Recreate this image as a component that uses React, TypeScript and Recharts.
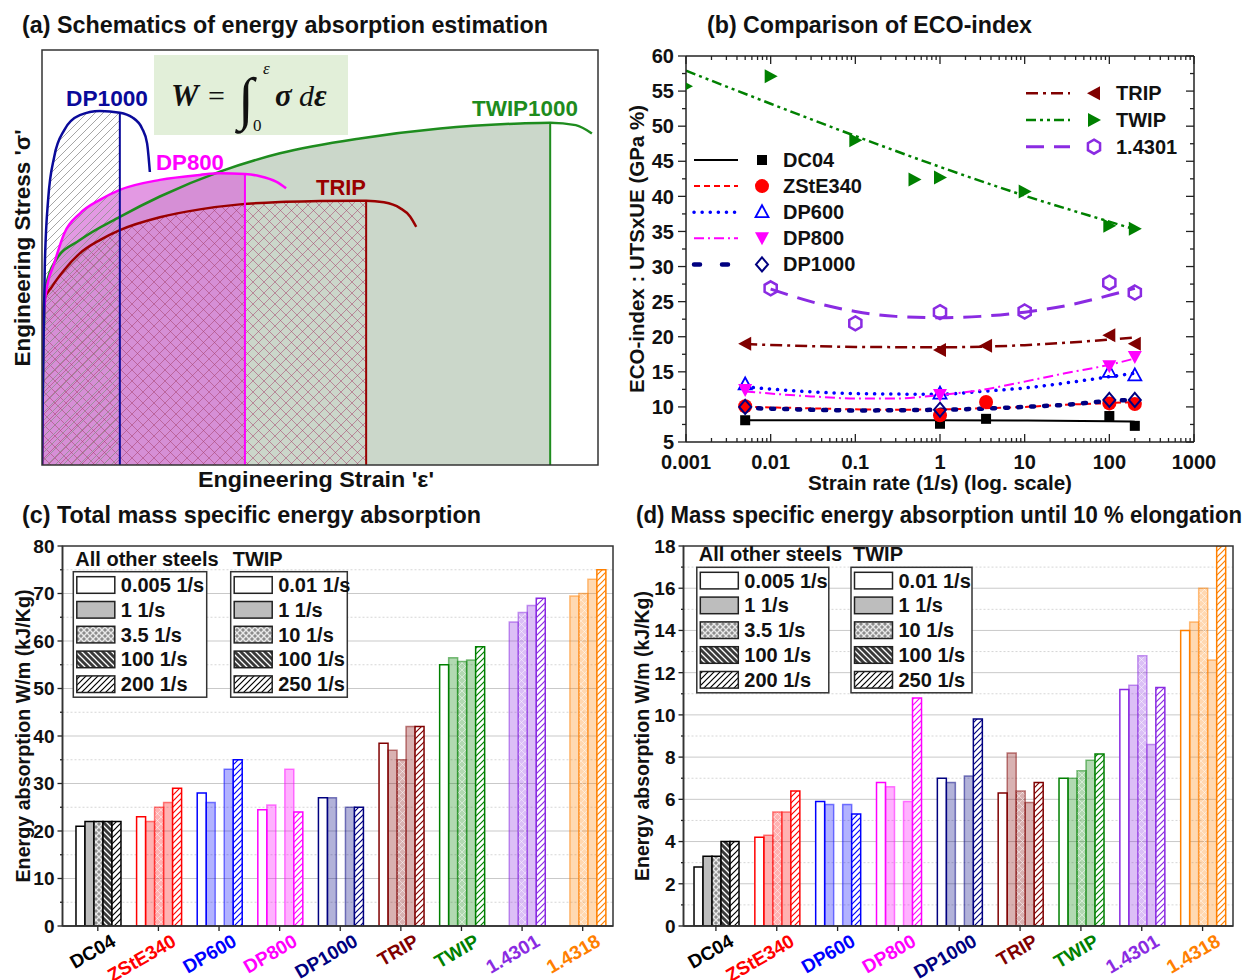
import React from 'react'
import { ComposedChart, Area, Line, Scatter, Bar, Cell, XAxis, YAxis, CartesianGrid, ReferenceLine } from 'recharts'

const FONT = "'Liberation Sans', Arial, sans-serif"
const SERIF = "'Liberation Serif', 'DejaVu Serif', serif"
const INK = '#111111'
const AXIS = '#222222'

// ---------- (a) schematic stress-strain curves (both axes in % of the drawing box)
const curveNames = ['DP1000', 'DP800', 'TRIP', 'TWIP1000']
const curveColors = ['#0a0a9a', '#ff00ff', '#990000', '#1e8c1e']
const dp1000Strain = [0, 0.2, 0.5, 1.1, 2.2, 4.0, 6.8, 10.4, 14.0, 16.2, 18.0, 18.9, 19.4]
const dp1000Stress = [0, 23.7, 47.8, 63.9, 74.3, 80.7, 84.3, 85.3, 84.9, 83.8, 81.1, 77.5, 70.6]
const dp800Strain = [0, 0.2, 0.7, 2.2, 4.0, 6.8, 10.4, 14.0, 21.2, 28.4, 32.0, 36.5, 39.2, 42.1, 43.9]
const dp800Stress = [0, 31.7, 41.4, 48.6, 55.8, 60.6, 63.9, 66.3, 68.7, 69.9, 70.3, 70.1, 69.6, 68.3, 66.7]
const tripStrain = [0, 0.07, 0.4, 1.8, 4.0, 6.8, 10.4, 14.0, 21.2, 28.4, 35.6, 42.8, 50.0, 58.3, 61.5, 64.4, 66.2, 67.3]
const tripStress = [0, 23.7, 39.8, 43.0, 47.0, 51.0, 54.2, 56.6, 59.7, 61.6, 62.8, 63.4, 63.6, 63.7, 63.3, 61.9, 59.9, 57.4]
const twipStrain = [0, 0.2, 0.7, 2.5, 6.8, 14.0, 21.2, 32.0, 42.8, 57.2, 71.6, 86.0, 91.4, 96.0, 98.9]
const twipStress = [0, 23.7, 43.0, 49.4, 54.2, 59.8, 64.7, 70.7, 75.1, 78.7, 81.1, 82.3, 82.5, 81.9, 79.9]
// uniform elongation (end of each shaded area), same order as curveNames
const curveUe = [14.0, 36.5, 58.3, 91.4]

// ---------- (b) ECO-index vs strain rate
const ecoNames = ['DC04', 'ZStE340', 'DP600', 'DP800', 'DP1000', 'TRIP', 'TWIP', '1.4301']
const ecoColors = ['#000000', '#ff0000', '#0000ff', '#ff00ff', '#000080', '#800000', '#008000', '#8a2be2']
const ecoMarkers = ['square', 'circle', 'triUp', 'triDown', 'diamond', 'triLeft', 'triRight', 'hex']
const ecoDash = ['', '6 4', '0.1 8', '10 4 2 4', '3 10', '12 5 3 5', '10 4 3 4 3 4', '18 10']
const ecoWidth = [2, 2, 3.5, 2, 4.5, 2.5, 2.5, 3]
const ecoRates = [
  [0.005, 1, 3.5, 100, 200],
  [0.005, 1, 3.5, 100, 200],
  [0.005, 1, 100, 200],
  [0.005, 1, 100, 200],
  [0.005, 1, 100, 200],
  [0.005, 1, 3.5, 100, 200],
  [0.001, 0.01, 0.1, 0.5, 1, 10, 100, 200],
  [0.01, 0.1, 1, 10, 100, 200],
]
const ecoValues = [
  [8.1, 7.6, 8.3, 8.7, 7.3],
  [10.1, 8.8, 10.7, 10.5, 10.4],
  [13.2, 11.9, 15.0, 14.5],
  [12.4, 11.7, 15.8, 17.1],
  [10.0, 9.6, 11.0, 11.0],
  [19.0, 18.1, 18.7, 20.2, 19.0],
  [55.7, 57.1, 48.0, 42.4, 42.7, 40.7, 35.8, 35.4],
  [26.9, 21.9, 23.5, 23.6, 27.7, 26.3],
]
// fitted trend lines
const fitRates = [
  [0.005, 0.1, 1, 10, 100, 200],
  [0.005, 0.03, 0.1, 0.3, 1, 3, 10, 30, 100, 200],
  [0.005, 0.03, 0.1, 1, 3, 10, 30, 100, 200],
  [0.005, 0.03, 0.1, 0.3, 1, 3, 10, 30, 100, 200],
  [0.005, 0.01, 0.1, 1, 10, 30, 100, 200],
  [0.005, 0.1, 1, 10, 100, 200],
  [0.001, 0.01, 0.1, 1, 10, 100, 200],
  [0.01, 0.03, 0.1, 0.3, 1, 3, 10, 30, 100, 200],
]
const fitValues = [
  [8.1, 8.1, 8.1, 8.05, 7.95, 7.9],
  [10.0, 9.8, 9.65, 9.6, 9.65, 9.8, 10.0, 10.3, 10.55, 10.7],
  [12.85, 12.15, 11.9, 11.8, 12.2, 12.7, 13.4, 14.3, 14.8],
  [12.2, 11.5, 11.2, 11.2, 11.7, 12.4, 13.6, 14.8, 16.0, 16.9],
  [9.85, 9.75, 9.5, 9.6, 10.0, 10.3, 10.85, 11.0],
  [18.95, 18.55, 18.5, 18.8, 19.6, 19.9],
  [57.9, 53.2, 48.6, 44.2, 40.1, 36.4, 35.3],
  [26.8, 25.0, 23.6, 22.9, 22.7, 22.9, 23.5, 24.4, 25.9, 26.9],
]
const decades = [0.001, 0.01, 0.1, 1, 10, 100, 1000]
const ecoMajor = [5, 10, 15, 20, 25, 30, 35, 40, 45, 50, 55, 60]
const ecoMinor = [7.5, 12.5, 17.5, 22.5, 27.5, 32.5, 37.5, 42.5, 47.5, 52.5, 57.5]

// ---------- (c), (d) bars
const steels = ['DC04', 'ZStE340', 'DP600', 'DP800', 'DP1000', 'TRIP', 'TWIP', '1.4301', '1.4318']
const steelColors = ['#000000', '#ff0000', '#0000ff', '#ff00ff', '#000080', '#800000', '#008000', '#8a2be2', '#ff8000']
const otherRates = ['0.005 1/s', '1 1/s', '3.5 1/s', '100 1/s', '200 1/s']
const twipRates = ['0.01 1/s', '1 1/s', '10 1/s', '100 1/s', '250 1/s']
// total energy absorption, one list per strain-rate slot
const totalAt0 = [21, 23, 28, 24.5, 27, 38.5, 55, null, null]
const totalAt1 = [22, 22, 26, 25.5, 27, 37, 56.5, 64, 69.5]
const totalAt2 = [22, 25, null, null, null, 35, 55.7, 66, 70]
const totalAt3 = [22, 26, 33, 33, 25, 42, 56, 67.5, 73]
const totalAt4 = [22, 29, 35, 24, 25, 42, 58.8, 69, 75]
// energy absorption until 10 % elongation
const tenAt0 = [2.8, 4.2, 5.9, 6.8, 7.0, 6.3, 7.0, 11.2, 14.0]
const tenAt1 = [3.3, 4.3, 5.75, 6.6, 6.8, 8.2, 7.0, 11.4, 14.4]
const tenAt2 = [3.3, 5.4, null, null, null, 6.4, 7.35, 12.8, 16.0]
const tenAt3 = [4.0, 5.4, 5.75, 5.9, 7.1, 5.85, 7.85, 8.6, 12.6]
const tenAt4 = [4.0, 6.4, 5.3, 10.8, 9.8, 6.8, 8.15, 11.3, 18.0]
const totalMajor = [0, 10, 20, 30, 40, 50, 60, 70, 80]
const totalMinor = [5, 15, 25, 35, 45, 55, 65, 75]
const tenMajor = [0, 2, 4, 6, 8, 10, 12, 14, 16, 18]
const tenMinor = [1, 3, 5, 7, 9, 11, 13, 15, 17]

const zip = (xs: number[], ys: number[]) => xs.map((x, i) => ({ x, y: ys[i] }))
const upTo = (pts: { x: number; y: number }[], ue: number) => pts.filter(p => p.x <= ue)
const toRows = (slots: (number | null)[][]) =>
  steels.map((steel, i) => ({ steel, s0: slots[0][i], s1: slots[1][i], s2: slots[2][i], s3: slots[3][i], s4: slots[4][i] }))

const curves = [zip(dp1000Strain, dp1000Stress), zip(dp800Strain, dp800Stress), zip(tripStrain, tripStress), zip(twipStrain, twipStress)]
const totalRows = toRows([totalAt0, totalAt1, totalAt2, totalAt3, totalAt4])
const tenRows = toRows([tenAt0, tenAt1, tenAt2, tenAt3, tenAt4])
const logTicks = [...decades, ...decades.slice(0, -1).flatMap(d => [2, 3, 4, 5, 6, 7, 8, 9].map(k => d * k))].sort((a, b) => a - b)

// ---------- shared bits
function Marker({ kind, cx, cy, color }: any) {
  switch (kind) {
    case 'square': return <rect x={cx - 5} y={cy - 5} width={10} height={10} fill={color} />
    case 'circle': return <circle cx={cx} cy={cy} r={7} fill={color} />
    case 'triUp': return <polygon points={`${cx},${cy - 7} ${cx + 6.5},${cy + 5} ${cx - 6.5},${cy + 5}`} fill="none" stroke={color} strokeWidth={1.8} />
    case 'triDown': return <polygon points={`${cx - 7},${cy - 6} ${cx + 7},${cy - 6} ${cx},${cy + 7}`} fill={color} />
    case 'diamond': return <polygon points={`${cx},${cy - 7} ${cx + 6},${cy} ${cx},${cy + 7} ${cx - 6},${cy}`} fill="none" stroke={color} strokeWidth={2} />
    case 'triLeft': return <polygon points={`${cx - 7},${cy} ${cx + 6},${cy - 7} ${cx + 6},${cy + 7}`} fill={color} />
    case 'triRight': return <polygon points={`${cx + 7},${cy} ${cx - 6},${cy - 7} ${cx - 6},${cy + 7}`} fill={color} />
    default: {
      const r = 7
      const pts = [0, 1, 2, 3, 4, 5].map(k => {
        const a = (Math.PI / 3) * k - Math.PI / 2
        return `${cx + r * Math.cos(a)},${cy + r * Math.sin(a)}`
      }).join(' ')
      return <polygon points={pts} fill="none" stroke={color} strokeWidth={2.5} />
    }
  }
}

function LogTick(props: any) {
  const { x, y, payload, side } = props
  const major = decades.includes(payload.value)
  const len = major ? 8 : 4
  if (side === 'top') return <line x1={x} x2={x} y1={y} y2={y + len} stroke={AXIS} strokeWidth={1.3} />
  return (
    <g>
      <line x1={x} x2={x} y1={y} y2={y - len} stroke={AXIS} strokeWidth={1.3} />
      {major && <text x={x} y={y + 27} textAnchor="middle" fontSize={20} fontWeight="bold" fontFamily={FONT} fill={INK}>{String(payload.value)}</text>}
    </g>
  )
}

// left axis: ticks point outward, labels only on majors; right axis: ticks point inward
function ValueTick(props: any) {
  const { x, y, payload, majors, side, gap = 7, fs = 19, outLen = 6 } = props
  const major = majors.includes(payload.value)
  const len = major ? outLen : outLen / 2
  if (side === 'right') return <line x1={x - len} x2={x} y1={y} y2={y} stroke={AXIS} strokeWidth={1.3} />
  return (
    <g>
      <line x1={x - len} x2={x} y1={y} y2={y} stroke={AXIS} strokeWidth={1.3} />
      {major && <text x={x - gap} y={y} dy="0.36em" textAnchor="end" fontSize={fs} fontWeight="bold" fontFamily={FONT} fill={INK}>{payload.value}</text>}
    </g>
  )
}

function SteelTick(props: any) {
  const { x, y, payload } = props
  const i = steels.indexOf(payload.value)
  const tx = x + 19
  const ty = y + 19
  return (
    <g>
      <line x1={x} x2={x} y1={y} y2={y + 5} stroke={AXIS} strokeWidth={1.3} />
      <text x={tx} y={ty} transform={`rotate(-30 ${tx} ${ty})`} textAnchor="end" fontSize={19} fontWeight="bold" fontFamily={FONT} fill={steelColors[i]}>{payload.value}</text>
    </g>
  )
}

// how each strain-rate slot is filled; DC04 gets the grey/black key styles
const dcFills = ['#ffffff', '#bdbdbd', 'url(#dc-dots)', 'url(#dc-dark)', 'url(#hatch-0)']
function barStyle(i: number, s: number) {
  if (i === 0) return { fill: dcFills[s], stroke: '#000', strokeWidth: 1.5 }
  const c = steelColors[i]
  if (s === 0) return { fill: '#fff', stroke: c, strokeWidth: 1.5 }
  if (s === 4) return { fill: `url(#hatch-${i})`, stroke: c, strokeWidth: 1.5 }
  if (s === 2) return { fill: `url(#xh-${i})`, stroke: c, strokeOpacity: 0.5, strokeWidth: 1.5 }
  return { fill: c, fillOpacity: 0.3, stroke: c, strokeOpacity: 0.5, strokeWidth: 1.5 }
}

function BarPanel({ rows, max, majors, minors, padLeft, marginLeft }: any) {
  return (
    <ComposedChart width={625} height={450} data={rows} margin={{ top: 16, right: 12, bottom: 0, left: marginLeft }} barGap={0} barCategoryGap="14%">
      <CartesianGrid vertical={false} horizontalValues={minors} stroke="#d6d6d6" strokeDasharray="2 2" />
      <CartesianGrid vertical={false} horizontalValues={majors.filter((v: number) => v > 0 && v < max)} stroke="#c9c9c9" />
      <XAxis dataKey="steel" type="category" interval={0} padding={{ left: padLeft, right: 0 }} height={54}
        tickLine={false} tickSize={0} tickMargin={0} axisLine={{ stroke: AXIS, strokeWidth: 1.5 }}
        tick={(p: any) => <SteelTick {...p} />} />
      <YAxis type="number" domain={[0, max]} allowDataOverflow ticks={[...majors, ...minors].sort((a, b) => a - b)} interval={0} width={50}
        tickLine={false} tickSize={0} tickMargin={0} axisLine={{ stroke: AXIS, strokeWidth: 1.5 }}
        tick={(p: any) => <ValueTick {...p} majors={majors} gap={8} outLen={5} />} />
      {[0, 1, 2, 3, 4].map(s => (
        <Bar key={s} dataKey={`s${s}`} isAnimationActive={false}>
          {steels.map((st, i) => <Cell key={st} {...barStyle(i, s)} />)}
        </Bar>
      ))}
    </ComposedChart>
  )
}

function RateLegend({ bx1, bw1, bx2, bw2, by }: any) {
  const bh = 125.5
  const rows = [0, 1, 2, 3, 4].map(k => by + 13.3 + k * 24.8)
  const block = (bx: number, bw: number, labels: string[]) => (
    <g>
      <rect x={bx} y={by} width={bw} height={bh} fill="#fff" stroke="#333" strokeWidth={1.5} />
      {labels.map((lab, k) => (
        <g key={lab + k}>
          <rect x={bx + 3.5} y={rows[k] - 8.3} width={38} height={16.6} fill={dcFills[k]} stroke="#222" strokeWidth={1.5} />
          <text x={bx + 47.5} y={rows[k] + 7} fontSize={20} fontWeight="bold" fontFamily={FONT} fill={INK}>{lab}</text>
        </g>
      ))}
    </g>
  )
  return (
    <g>
      <text x={bx1 + 2} y={by - 6} fontSize={20} fontWeight="bold" fontFamily={FONT} fill={INK}>All other steels</text>
      <text x={bx2 + 2} y={by - 6} fontSize={20} fontWeight="bold" fontFamily={FONT} fill={INK}>TWIP</text>
      {block(bx1, bw1, otherRates)}
      {block(bx2, bw2, twipRates)}
    </g>
  )
}

function Txt({ x, y, len, size = 20, color = INK, anchor = 'start', rotate = false, children }: any) {
  return (
    <text x={x} y={y} textLength={len} lengthAdjust="spacingAndGlyphs" textAnchor={anchor}
      transform={rotate ? `rotate(-90 ${x} ${y})` : undefined}
      fontSize={size} fontWeight="bold" fontFamily={FONT} fill={color}>{children}</text>
  )
}

export default function App() {
  const legendLeft = [0, 1, 2, 3, 4]
  const legendRight = [5, 6, 7]
  return (
    <div style={{ position: 'absolute', left: 0, top: 0, width: 1245, height: 980, background: '#fff', overflow: 'hidden' }}>
      <svg width={0} height={0} style={{ position: 'absolute' }}>
        <defs>
          {steelColors.map((c, i) => (
            <pattern key={`h${i}`} id={`hatch-${i}`} patternUnits="userSpaceOnUse" width={6} height={6}>
              <rect width={6} height={6} fill="#fff" />
              <path d="M-1,1 L1,-1 M0,6 L6,0 M5,7 L7,5" stroke={c} strokeWidth={1.2} />
            </pattern>
          ))}
          {steelColors.map((c, i) => (
            <pattern key={`x${i}`} id={`xh-${i}`} patternUnits="userSpaceOnUse" width={7} height={7}>
              <rect width={7} height={7} fill={c} fillOpacity={0.3} />
              <path d="M0,0 L7,7 M7,0 L0,7" stroke="#fff" strokeOpacity={0.45} strokeWidth={1} />
            </pattern>
          ))}
          <pattern id="dc-dots" patternUnits="userSpaceOnUse" width={6} height={6}>
            <rect width={6} height={6} fill="#8c8c8c" />
            <path d="M0,0 L6,6 M6,0 L0,6" stroke="#e8e8e8" strokeWidth={1.4} />
          </pattern>
          <pattern id="dc-dark" patternUnits="userSpaceOnUse" width={6} height={6}>
            <rect width={6} height={6} fill="#3a3a3a" />
            <path d="M0,0 L6,6 M-1,5 L1,7 M5,-1 L7,1" stroke="#fff" strokeWidth={1.3} />
          </pattern>
          <pattern id="a-hatch" patternUnits="userSpaceOnUse" width={8} height={8}>
            <path d="M0,8 L8,0 M-1,1 L1,-1 M7,9 L9,7" stroke="#8f8f8f" strokeWidth={0.8} />
          </pattern>
          <pattern id="a-cross" patternUnits="userSpaceOnUse" width={11} height={11}>
            <path d="M0,0 L11,11 M11,0 L0,11" stroke="#a4406a" strokeOpacity={0.75} strokeWidth={0.7} />
          </pattern>
        </defs>
      </svg>

      {/* (a) schematic */}
      <div style={{ position: 'absolute', left: 0, top: 40 }}>
        <ComposedChart width={610} height={440} margin={{ top: 10, right: 12, bottom: 15, left: 42 }}>
          <XAxis type="number" dataKey="x" domain={[0, 100]} allowDataOverflow hide />
          <YAxis type="number" dataKey="y" domain={[0, 100]} allowDataOverflow hide />
          <Area data={upTo(curves[3], curveUe[3])} dataKey="y" type="monotone" fill="#cbd7ca" fillOpacity={1} stroke="none" isAnimationActive={false} />
          <Line data={curves[3]} dataKey="y" type="monotone" stroke={curveColors[3]} strokeWidth={2.5} dot={false} activeDot={false} isAnimationActive={false} />
          <Area data={upTo(curves[1], curveUe[1])} dataKey="y" type="monotone" fill="#d977d9" fillOpacity={0.75} stroke="none" isAnimationActive={false} />
          <Area data={upTo(curves[2], curveUe[2])} dataKey="y" type="monotone" fill="url(#a-cross)" fillOpacity={1} stroke="none" isAnimationActive={false} />
          <Area data={upTo(curves[0], curveUe[0])} dataKey="y" type="monotone" fill="url(#a-hatch)" fillOpacity={1} stroke="none" isAnimationActive={false} />
          <Line data={curves[2]} dataKey="y" type="monotone" stroke={curveColors[2]} strokeWidth={2.5} dot={false} activeDot={false} isAnimationActive={false} />
          <Line data={curves[1]} dataKey="y" type="monotone" stroke={curveColors[1]} strokeWidth={2.5} dot={false} activeDot={false} isAnimationActive={false} />
          <Line data={curves[0]} dataKey="y" type="monotone" stroke={curveColors[0]} strokeWidth={2.5} dot={false} activeDot={false} isAnimationActive={false} />
          {curves.map((pts, i) => {
            const top = pts.find(p => p.x === curveUe[i])
            return <ReferenceLine key={i} segment={[{ x: curveUe[i], y: 0 }, { x: curveUe[i], y: top ? top.y : 0 }]} stroke={curveColors[i]} strokeWidth={2} />
          })}
        </ComposedChart>
      </div>

      {/* (b) ECO-index */}
      <div style={{ position: 'absolute', left: 620, top: 40 }}>
        <ComposedChart width={600} height={450} margin={{ top: 10, right: 16, bottom: 8, left: 16 }}>
          <XAxis dataKey="rate" type="number" scale="log" domain={[0.001, 1000]} allowDataOverflow ticks={logTicks} interval={0} height={40}
            tickLine={false} tickSize={0} tickMargin={0} axisLine={{ stroke: AXIS, strokeWidth: 1.5 }} tick={(p: any) => <LogTick {...p} />} />
          <XAxis xAxisId="top" orientation="top" dataKey="rate" type="number" scale="log" domain={[0.001, 1000]} allowDataOverflow ticks={logTicks} interval={0} height={6}
            tickLine={false} tickSize={0} tickMargin={0} axisLine={{ stroke: AXIS, strokeWidth: 1.5 }} tick={(p: any) => <LogTick {...p} side="top" />} />
          <YAxis dataKey="value" type="number" domain={[5, 60]} allowDataOverflow ticks={[...ecoMajor, ...ecoMinor].sort((a, b) => a - b)} interval={0} width={50}
            tickLine={false} tickSize={0} tickMargin={0} axisLine={{ stroke: AXIS, strokeWidth: 1.5 }} tick={(p: any) => <ValueTick {...p} majors={ecoMajor} gap={12} fs={20} outLen={8} />} />
          <YAxis yAxisId="right" orientation="right" dataKey="value" type="number" domain={[5, 60]} allowDataOverflow ticks={[...ecoMajor, ...ecoMinor].sort((a, b) => a - b)} interval={0} width={10}
            tickLine={false} tickSize={0} tickMargin={0} axisLine={{ stroke: AXIS, strokeWidth: 1.5 }} tick={(p: any) => <ValueTick {...p} majors={ecoMajor} side="right" outLen={8} />} />
          <Line xAxisId="top" yAxisId="right" data={ecoRates[6].map((rate, k) => ({ rate, value: ecoValues[6][k] }))} dataKey="value" stroke="none" dot={false} activeDot={false} isAnimationActive={false} />
          {ecoNames.map((n, i) => (
            <Line key={`fit-${n}`} data={fitRates[i].map((rate, k) => ({ rate, value: fitValues[i][k] }))} dataKey="value" type="monotone"
              stroke={ecoColors[i]} strokeWidth={ecoWidth[i]} strokeDasharray={ecoDash[i] || undefined} strokeLinecap={i === 2 || i === 4 ? 'round' : 'butt'}
              dot={false} activeDot={false} isAnimationActive={false} />
          ))}
          {ecoNames.map((n, i) => (
            <Scatter key={`pt-${n}`} data={ecoRates[i].map((rate, k) => ({ rate, value: ecoValues[i][k] }))} dataKey="value" isAnimationActive={false}
              shape={(p: any) => <Marker kind={ecoMarkers[i]} cx={p.cx} cy={p.cy} color={ecoColors[i]} />} />
          ))}
        </ComposedChart>
      </div>

      {/* (c) total */}
      <div style={{ position: 'absolute', left: 0, top: 530 }}>
        <BarPanel rows={totalRows} max={80} majors={totalMajor} minors={totalMinor} padLeft={5} marginLeft={12.5} />
      </div>

      {/* (d) until 10 % */}
      <div style={{ position: 'absolute', left: 620, top: 530 }}>
        <BarPanel rows={tenRows} max={18} majors={tenMajor} minors={tenMinor} padLeft={2} marginLeft={13.5} />
      </div>

      {/* titles, axis names, legends, frames */}
      <svg width={1245} height={980} style={{ position: 'absolute', left: 0, top: 0, pointerEvents: 'none' }}>
        <Txt x={22} y={33} len={526} size={23}>(a) Schematics of energy absorption estimation</Txt>
        <Txt x={707} y={33} len={325} size={23}>(b) Comparison of ECO-index</Txt>
        <Txt x={22} y={523} len={459} size={23}>(c) Total mass specific energy absorption</Txt>
        <Txt x={636} y={523} len={606} size={23}>(d) Mass specific energy absorption until 10 % elongation</Txt>

        <rect x={42} y={50} width={556} height={415} fill="none" stroke="#333" strokeWidth={1.5} />
        <Txt x={316} y={487} len={236} size={22} anchor="middle">Engineering Strain 'ε'</Txt>
        <Txt x={30} y={248} len={237} size={22} anchor="middle" rotate>Engineering Stress 'σ'</Txt>
        <Txt x={66} y={106} len={82} size={22} color={curveColors[0]}>{curveNames[0]}</Txt>
        <Txt x={156} y={170} len={68} size={22} color={curveColors[1]}>{curveNames[1]}</Txt>
        <Txt x={316} y={195} len={50} size={22} color={curveColors[2]}>{curveNames[2]}</Txt>
        <Txt x={472} y={116} len={106} size={22} color={curveColors[3]}>{curveNames[3]}</Txt>

        <rect x={154} y={55} width={194} height={80} fill="#e2efd9" />
        <g fontFamily={SERIF} fill="#111">
          <text x={171} y={106} fontSize={31} fontWeight="bold" fontStyle="italic">W</text>
          <text x={208} y={106} fontSize={30}>=</text>
          <text x={238} y={118} fontSize={58}>∫</text>
          <text x={263} y={74} fontSize={17} fontStyle="italic">ε</text>
          <text x={253} y={131} fontSize={17}>0</text>
          <text x={275} y={106} fontSize={31} fontWeight="bold" fontStyle="italic">σ</text>
          <text x={299} y={106} fontSize={30} fontStyle="italic">d</text>
          <text x={314} y={106} fontSize={31} fontWeight="bold" fontStyle="italic">ε</text>
        </g>

        <Txt x={644} y={249} len={288} size={20} anchor="middle" rotate>ECO-index : UTSxUE (GPa %)</Txt>
        <Txt x={940} y={490} len={264} size={21} anchor="middle">Strain rate (1/s) (log. scale)</Txt>
        {legendLeft.map((i, k) => {
          const y = 160 + k * 26.1
          return (
            <g key={ecoNames[i]}>
              <line x1={694} x2={738} y1={y} y2={y} stroke={ecoColors[i]} strokeWidth={ecoWidth[i]} strokeDasharray={i === 4 ? '6 22' : ecoDash[i] || undefined} strokeLinecap={i === 2 || i === 4 ? 'round' : 'butt'} />
              <Marker kind={ecoMarkers[i]} cx={762} cy={y} color={ecoColors[i]} />
              <text x={783} y={y + 7} fontSize={20} fontWeight="bold" fontFamily={FONT} fill={INK}>{ecoNames[i]}</text>
            </g>
          )
        })}
        {legendRight.map((i, k) => {
          const y = 93.3 + k * 26.7
          return (
            <g key={ecoNames[i]}>
              <line x1={1026} x2={1070} y1={y} y2={y} stroke={ecoColors[i]} strokeWidth={ecoWidth[i]} strokeDasharray={ecoDash[i] || undefined} />
              <Marker kind={ecoMarkers[i]} cx={1094} cy={y} color={ecoColors[i]} />
              <text x={1116} y={y + 7} fontSize={20} fontWeight="bold" fontFamily={FONT} fill={INK}>{ecoNames[i]}</text>
            </g>
          )
        })}

        <rect x={62.5} y={546} width={550.5} height={380} fill="none" stroke="#333" strokeWidth={1.5} />
        <rect x={683.5} y={546} width={549.5} height={380} fill="none" stroke="#333" strokeWidth={1.5} />
        <Txt x={30} y={736} len={293} size={20} anchor="middle" rotate>Energy absorption W/m (kJ/Kg)</Txt>
        <Txt x={649} y={736} len={290} size={20} anchor="middle" rotate>Energy absorption W/m (kJ/Kg)</Txt>
        <RateLegend bx1={73.3} bw1={133.4} bx2={230.7} bw2={116.6} by={571.7} />
        <RateLegend bx1={696.8} bw1={132} bx2={851} bw2={121} by={567.3} />
      </svg>
    </div>
  )
}
